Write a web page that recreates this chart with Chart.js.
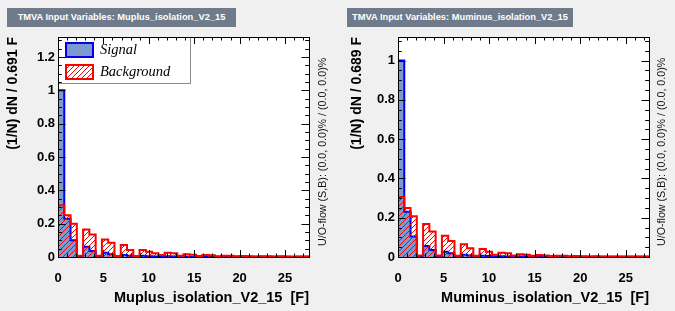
<!DOCTYPE html>
<html><head><meta charset="utf-8">
<script src="https://cdn.jsdelivr.net/npm/chart.js@4.4.0/dist/chart.umd.min.js"></script>
<style>
html,body{margin:0;padding:0;background:#f0f0f0;width:675px;height:311px;overflow:hidden;}
.wrap{position:absolute;top:0;height:311px;}
.ttl{position:absolute;top:8px;height:19px;background:#6f7b8b;color:#fff;font:bold 9.3px "Liberation Sans",Arial,sans-serif;line-height:19px;text-align:center;white-space:nowrap;}
</style></head><body>
<div class="ttl" style="left:7px;width:229px">TMVA Input Variables: Muplus_isolation_V2_15</div>
<div class="ttl" style="left:347px;width:226px">TMVA Input Variables: Muminus_isolation_V2_15</div>
<div class="wrap" style="left:0;width:340px"><canvas id="c1" width="340" height="311"></canvas></div>
<div class="wrap" style="left:340px;width:335px"><canvas id="c2" width="335" height="311"></canvas></div>
<script>
// ---- data ----
const binWidthPlus = 0.691;
const binWidthMinus = 0.689;
const signalPlus = [1.0,0.23,0.10,0.001,0.062,0.036,0.002,0.026,0.016,0.001,0.012,0.008,0.001,0.007,0.005,0.003,0.002,0.004,0.003,0.001,0.002,0.002,0.001,0.002,0.001,0.001,0.001,0.001,0.001,0.001,0.001,0.001,0.001,0.001,0.001,0.001,0.001,0.001,0.001,0.001];
const backgroundPlus = [0.31,0.25,0.20,0.008,0.165,0.135,0.008,0.105,0.086,0.006,0.072,0.042,0.006,0.042,0.032,0.022,0.012,0.026,0.022,0.008,0.016,0.014,0.006,0.012,0.010,0.005,0.008,0.007,0.004,0.006,0.005,0.003,0.005,0.004,0.003,0.004,0.003,0.002,0.003,0.003];
const signalMinus = [1.0,0.23,0.104,0.001,0.056,0.036,0.002,0.027,0.019,0.001,0.012,0.008,0.001,0.007,0.005,0.002,0.004,0.003,0.001,0.002,0.002,0.001,0.002,0.001,0.001,0.001,0.001,0.001,0.001,0.001,0.001,0.001,0.001,0.001,0.001,0.001,0.001,0.001,0.001,0.001];
const backgroundMinus = [0.306,0.25,0.207,0.008,0.168,0.13,0.008,0.108,0.082,0.006,0.065,0.044,0.006,0.041,0.027,0.012,0.022,0.019,0.008,0.014,0.012,0.006,0.010,0.008,0.005,0.007,0.006,0.004,0.005,0.004,0.003,0.004,0.003,0.003,0.003,0.002,0.003,0.002,0.002,0.002];
const xTickValues = [0,5,10,15,20,25];
const xTickLabels = ['0','5','10','15','20','25'];
const yTickValuesPlus = [0,0.2,0.4,0.6,0.8,1.0,1.2];
const yTickLabelsPlus = ['0','0.2','0.4','0.6','0.8','1','1.2'];
const yTickValuesMinus = [0,0.2,0.4,0.6,0.8,1.0];
const yTickLabelsMinus = ['0','0.2','0.4','0.6','0.8','1'];
const legendLabels = ['Signal','Background'];
const uoText = 'U/O-flow (S,B): (0.0, 0.0)% / (0.0, 0.0)%';

Chart.defaults.font.family = '"Liberation Sans", Arial, sans-serif';
Chart.defaults.color = '#000';

const SIG_FILL = '#7d99d1', SIG_LINE = '#0000ee', BKG_LINE = '#ff0000';

function makeHatch(){
  const s = 5;
  const p = document.createElement('canvas'); p.width = s; p.height = s;
  const g = p.getContext('2d');
  g.strokeStyle = BKG_LINE; g.lineWidth = 1;
  g.beginPath();
  g.moveTo(0,s); g.lineTo(s,0);
  g.moveTo(-1,1); g.lineTo(1,-1);
  g.moveTo(s-1,s+1); g.lineTo(s+1,s-1);
  g.stroke();
  return g.createPattern(p,'repeat');
}
const hatch = makeHatch();

function histPoints(vals, w){
  const pts = [{x:0,y:0}];
  vals.forEach((v,i)=>pts.push({x:i*w,y:v}));
  pts.push({x:vals.length*w,y:0});
  return pts;
}

function framePlugin(cfg){
  return {
    id:'frame'+cfg.id,
    beforeDraw(chart){
      const {ctx, chartArea:a} = chart;
      ctx.save(); ctx.fillStyle='#fff'; ctx.fillRect(a.left,a.top,a.right-a.left,a.bottom-a.top); ctx.restore();
    },
    afterDatasetsDraw(chart){
      const {ctx, chartArea:a} = chart;
      const xs = chart.scales.x, ys = chart.scales.y;
      ctx.save();
      if (cfg.legend){
        ctx.fillStyle='#fff'; ctx.fillRect(a.left,a.top,132,46);
        ctx.strokeStyle='#8a8a8a'; ctx.lineWidth=1; ctx.strokeRect(a.left+0.5,a.top+0.5,132,46);
        ctx.fillStyle=SIG_FILL; ctx.fillRect(66,43,27,14);
        ctx.strokeStyle=SIG_LINE; ctx.lineWidth=2; ctx.strokeRect(66,43,27,14);
        ctx.fillStyle=hatch; ctx.fillRect(66,65,27,14);
        ctx.strokeStyle=BKG_LINE; ctx.lineWidth=2; ctx.strokeRect(66,65,27,14);
        ctx.fillStyle='#000'; ctx.font='italic 14.5px "Liberation Serif", "Times New Roman", serif';
        ctx.textBaseline='middle'; ctx.textAlign='left';
        ctx.fillText(legendLabels[0],100,50);
        ctx.fillText(legendLabels[1],100,72);
      }
      ctx.strokeStyle='#000'; ctx.lineWidth=1;
      ctx.beginPath();
      for (let v=0; v<=xs.max+1e-9; v+=1){
        const px = Math.round(xs.getPixelForValue(v))+0.5;
        const L = (v%5===0)?7:3.5;
        ctx.moveTo(px,a.bottom); ctx.lineTo(px,a.bottom-L);
        ctx.moveTo(px,a.top); ctx.lineTo(px,a.top+L);
      }
      for (let i=0; i*0.05<=ys.max+1e-9; i++){
        const py = Math.round(ys.getPixelForValue(i*0.05))+0.5;
        const L = (i%4===0)?7.5:3.8;
        ctx.moveTo(a.left,py); ctx.lineTo(a.left+L,py);
        ctx.moveTo(a.right,py); ctx.lineTo(a.right-L,py);
      }
      ctx.stroke();
      ctx.strokeRect(a.left+0.5,a.top+0.5,a.right-a.left,a.bottom-a.top);
      // U/O-flow text
      ctx.translate(cfg.uoX, 246); ctx.rotate(-Math.PI/2);
      ctx.font='10.7px "Liberation Sans", Arial, sans-serif'; ctx.fillStyle='#111';
      ctx.textAlign='left'; ctx.textBaseline='middle';
      ctx.fillText(uoText,0,0);
      ctx.restore();
    }
  };
}

function makeChart(cfg){
  const w = cfg.binWidth;
  const xMax = cfg.sig.length*w;
  return new Chart(document.getElementById(cfg.canvas), {
    type:'line',
    data:{datasets:[
      {label:legendLabels[1], data:histPoints(cfg.bkg,w), stepped:'before', borderColor:BKG_LINE, borderWidth:2, backgroundColor:hatch, fill:'origin', pointRadius:0, borderJoinStyle:'miter'},
      {label:legendLabels[0], data:histPoints(cfg.sig,w), stepped:'before', borderColor:SIG_LINE, borderWidth:2, backgroundColor:SIG_FILL, fill:'origin', pointRadius:0, borderJoinStyle:'miter'}
    ]},
    options:{
      responsive:false, animation:false, events:[],
      layout:{padding:{top:37,left:0,right:cfg.padRight,bottom:0}},
      plugins:{legend:{display:false}, tooltip:{enabled:false}},
      scales:{
        x:{type:'linear', min:0, max:xMax,
          grid:{display:false, drawTicks:false}, border:{display:false},
          afterBuildTicks:s=>{ s.ticks = xTickValues.map(v=>({value:v})); },
          ticks:{callback:(v,i)=>xTickLabels[i], font:{size:13, weight:'bold'}, padding:14, autoSkip:false, maxRotation:0},
          afterFit:s=>{ s.height = 54; },
          title:{display:true, text:cfg.xTitle, align:'end', font:{size:14.5, weight:'bold'}, padding:{top:0,bottom:4}}
        },
        y:{type:'linear', min:0, max:cfg.yMax,
          grid:{display:false, drawTicks:false}, border:{display:false},
          afterBuildTicks:s=>{ s.ticks = cfg.yTicks.map(v=>({value:v})); },
          ticks:{callback:(v,i)=>cfg.yLabels[i], font:{size:13, weight:'bold'}, padding:3, autoSkip:false},
          afterFit:s=>{ s.width = 58; },
          title:{display:true, text:cfg.yTitle, align:'end', font:{size:14, weight:'bold'}, padding:{top:cfg.yTitlePad,bottom:0}}
        }
      }
    },
    plugins:[framePlugin(cfg)]
  });
}

makeChart({id:1, canvas:'c1', binWidth:binWidthPlus, sig:signalPlus, bkg:backgroundPlus, yMax:1.32, padRight:31,
  yTicks:yTickValuesPlus, yLabels:yTickLabelsPlus, xTitle:'Muplus_isolation_V2_15  [F]', yTitle:'(1/N) dN / 0.691 F',
  yTitlePad:4.6, uoX:323, legend:true});
makeChart({id:2, canvas:'c2', binWidth:binWidthMinus, sig:signalMinus, bkg:backgroundMinus, yMax:1.12, padRight:26,
  yTicks:yTickValuesMinus, yLabels:yTickLabelsMinus, xTitle:'Muminus_isolation_V2_15  [F]', yTitle:'(1/N) dN / 0.689 F',
  yTitlePad:8.6, uoX:322, legend:false});
</script>
</body></html>
